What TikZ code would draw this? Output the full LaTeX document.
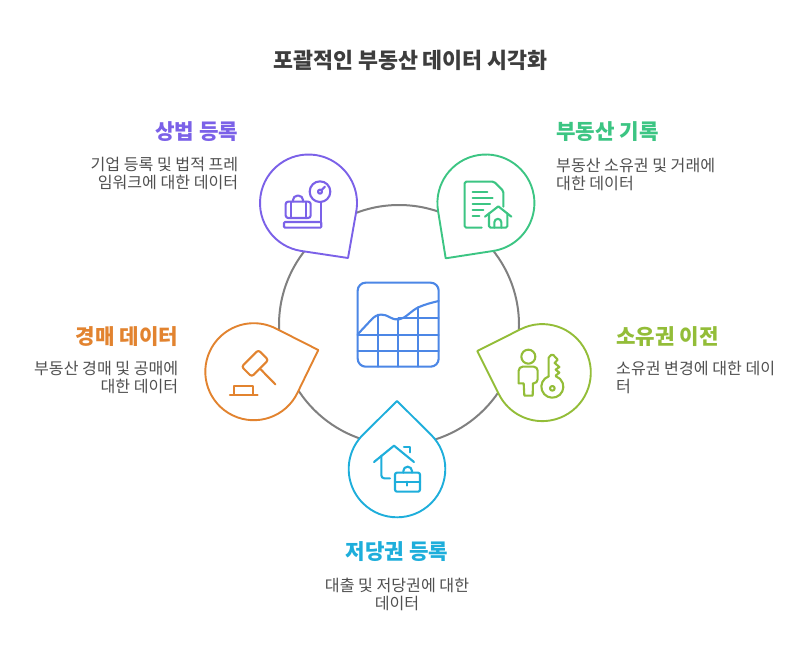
\documentclass[tikz,border=0pt]{standalone}
\usepackage{fontspec}
\setmainfont{Noto Sans CJK KR}
\usetikzlibrary{calc}
\definecolor{cpurple}{HTML}{7B61E8}
\definecolor{cgreen}{HTML}{3CC583}
\definecolor{corange}{HTML}{E2832F}
\definecolor{clime}{HTML}{93BD38}
\definecolor{cblue}{HTML}{1EAEDB}
\definecolor{ccenter}{HTML}{4C87E6}
\definecolor{cring}{HTML}{808080}
\definecolor{ctext}{HTML}{505050}
\definecolor{ctitle}{HTML}{3D3D3D}
\newcommand{\dropshape}[6]{%
  \pgfmathsetmacro{\dd}{veclen(#3-#1,#4-#2)}%
  \pgfmathsetmacro{\dirr}{atan2(#4-#2,#3-#1)}%
  \pgfmathsetmacro{\tang}{acos(#5/\dd)}%
  \pgfmathsetmacro{\aone}{\dirr+\tang}%
  \pgfmathsetmacro{\atwo}{\dirr-\tang+360}%
  \draw[droplet,draw=#6] (#3,#4) -- ({#1+#5*cos(\aone)},{#2+#5*sin(\aone)})
     arc[start angle=\aone,end angle=\atwo,radius=#5] -- cycle;%
}
\tikzset{
  droplet/.style={line width=1.9pt,fill=white,line join=round},
  iconline/.style={line width=2.1pt,line cap=round,line join=round},
  ringline/.style={line width=2pt,draw=cring},
  headlabel/.style={inner sep=0pt,font=\fontsize{21.2}{25}\selectfont\bfseries},
  bodylabel/.style={inner sep=0pt,text=ctext,font=\fontsize{16.1}{18.3}\selectfont},
  titlelabel/.style={inner sep=0pt,text=ctitle,font=\fontsize{21.7}{26}\selectfont\bfseries}
}
\begin{document}
\begin{tikzpicture}[x=1pt,y=1pt,yscale=-1]
\useasboundingbox (0,0) rectangle (806,662);
\fill[white] (0,0) rectangle (806,662);
\node[titlelabel] (title) at (410.5,60) {포괄적인 부동산 데이터 시각화};
\coordinate (ringc) at (399,325);
\draw[ringline] (ringc) circle[radius=120];
\dropshape{308.5}{203}{348}{258}{48.5}{cpurple}
\dropshape{485.9}{203}{445.7}{258.3}{48.5}{cgreen}
\dropshape{253.8}{371.7}{318.3}{350}{48.5}{corange}
\dropshape{542.3}{372.6}{477.3}{351}{48.5}{clime}
\dropshape{397}{469}{397}{401}{48.3}{cblue}
% centre icon
\begin{scope}[shift={(350,275)},scale=1/3,iconline,draw=ccenter]
\draw (23,47) arc[start angle=180,end angle=270,radius=24] -- (242,23) arc[start angle=270,end angle=360,radius=24] -- (266,251) arc[start angle=0,end angle=90,radius=24] -- (47,275) arc[start angle=90,end angle=180,radius=24] -- cycle;
\draw (23,178) -- (66,132) .. controls (84,114) and (100,116) .. (120,127) .. controls (140,138) and (155,135) .. (175,118) .. controls (186,109) and (195,102) .. (205,97) .. controls (225,88) and (245,83) .. (266,78);
\draw (84,119) -- (84,275) (145,133) -- (145,275) (205,97) -- (205,275);
\draw (145,130) -- (266,130) (23,180) -- (266,180) (23,228) -- (266,228);
\end{scope}
% purple icon
\begin{scope}[shift={(250,145)},scale=1/3,iconline,draw=cpurple]
\draw (210,140) circle[radius=31];
\draw (210,140) circle[radius=6];
\draw (215,135) -- (225,125);
\draw (214,172) -- (214,240);
\draw[rounded corners=1pt] (102,231) rectangle (214,248);
\draw[rounded corners=2.5pt] (107,170) rectangle (182,219);
\draw (122,170) -- (122,219) (167,170) -- (167,219);
\draw (129,170) -- (129,165) arc[start angle=180,end angle=270,radius=13] -- (146,152) arc[start angle=270,end angle=360,radius=13] -- (159,170);
\end{scope}
% green icon
\begin{scope}[shift={(430,145)},scale=1/3,iconline,draw=cgreen]
\draw[rounded corners=1.5pt] (155,248) -- (104,248) -- (104,110) -- (192,110) -- (220,138) -- (220,185);
\draw (128,140) -- (172,140) (128,158) -- (188,158) (128,176) -- (180,176) (128,194) -- (160,194) (128,212) -- (148,212);
\draw (165,215) -- (205,184) -- (244,215);
\draw[rounded corners=1.5pt] (177,205) -- (177,248) -- (232,248) -- (232,205);
\draw (193,248) -- (193,232) arc[start angle=180,end angle=360,radius=10.5] -- (214,248);
\end{scope}
% orange icon
\begin{scope}[shift={(200,315)},scale=1/3,iconline,draw=corange]
\draw[rounded corners=2.5pt] (175,105) -- (205,135) -- (155,185) -- (125,155) -- cycle;
\draw (182,163) -- (226,208);
\draw (103,239) -- (103,212) -- (160,212) -- (160,239);
\draw (90,239) -- (173,239);
\end{scope}
% lime icon
\begin{scope}[shift={(470,315)},scale=1/3,iconline,draw=clime]
\draw (175,125) circle[radius=21];
\draw[rounded corners=4pt] (146,205) -- (146,155) -- (203,155) -- (203,205) -- (189,205);
\draw (146,205) -- (161,205) -- (163,242) -- (188,242) -- (189,205);
\draw (247,220) circle[radius=7];
\draw (236,184) -- (236,128) -- (243,120) -- (250,120) -- (263,134) -- (254,144) -- (268,156) -- (257,164) -- (268,173) -- (258,181) -- (258,184);
\draw (236,184) arc[start angle=250.5,end angle=-70.5,radius=33];
\end{scope}
% blue icon
\begin{scope}[shift={(340,395)},scale=1/3,iconline,draw=cblue]
\draw (102,201) -- (162,152) -- (222,201);
\draw[rounded corners=3pt] (124,182) -- (124,250) -- (150,250);
\draw (192,155) -- (210,155) -- (210,172);
\draw[rounded corners=2pt] (165,233) rectangle (240,290);
\draw (165,260) -- (240,260);
\draw (202,260) -- (202,272);
\draw (190,233) -- (190,228) arc[start angle=180,end angle=360,radius=13] -- (216,233);
\end{scope}
% labels
\node[headlabel,text=cpurple,anchor=east] (h1) at (238.5,131.5) {상법 등록};
\node[bodylabel,anchor=east,align=right] (b1) at (238.5,173.7) {기업 등록 및 법적 프레\\임워크에 대한 데이터};
\node[headlabel,text=cgreen,anchor=west] (h2) at (556,131.5) {부동산 기록};
\node[bodylabel,anchor=west,align=left] (b2) at (556,174.5) {부동산 소유권 및 거래에\\대한 데이터};
\node[headlabel,text=corange,anchor=east] (h3) at (178.5,336.5) {경매 데이터};
\node[bodylabel,anchor=east,align=right] (b3) at (178.5,377.5) {부동산 경매 및 공매에\\대한 데이터};
\node[headlabel,text=clime,anchor=west] (h4) at (616,336.5) {소유권 이전};
\node[bodylabel,anchor=west,align=left] (b4) at (616,377.5) {소유권 변경에 대한 데이\\터};
\node[headlabel,text=cblue] (h5) at (397,551.5) {저당권 등록};
\node[bodylabel,align=center] (b5) at (397,594.5) {대출 및 저당권에 대한\\데이터};
\end{tikzpicture}
\end{document}
